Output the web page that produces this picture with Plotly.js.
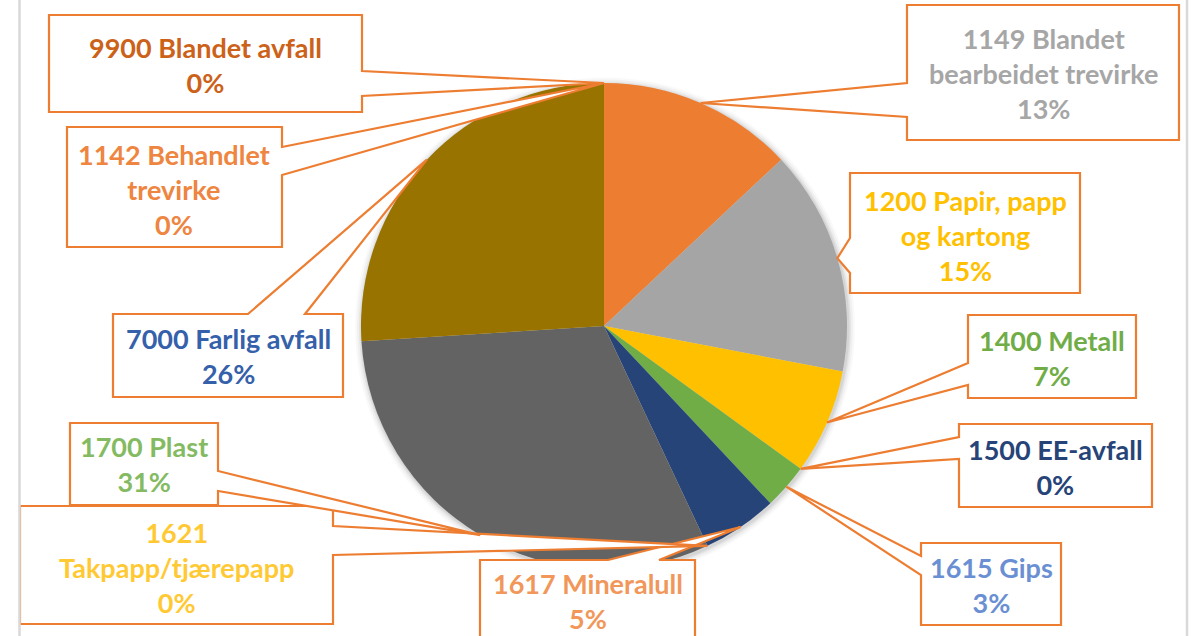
<!DOCTYPE html>
<html>
<head>
<meta charset="utf-8">
<script src="https://cdn.plot.ly/plotly-3.0.1.min.js"></script>
<style>html,body{margin:0;padding:0;background:#fff;}#chart{width:1191px;height:636px;}</style>
</head>
<body>
<div id="chart"></div>
<script>
// ---- data ----
const codes = ['1149', '1200', '1400', '1500', '1615', '1617', '1621', '1700', '7000', '1142', '9900'];
const names = ['Blandet<br>bearbeidet trevirke', 'Papir, papp<br>og kartong', 'Metall', 'EE-avfall', 'Gips',
               'Mineralull', '<br>Takpapp/tjærepapp', 'Plast', 'Farlig avfall', 'Behandlet<br>trevirke', 'Blandet avfall'];
const percents = [13, 15, 7, 0, 3, 5, 0, 31, 26, 0, 0];
const sliceColors = ['#ED7D31', '#A5A5A5', '#FFC000', '#5B9BD5', '#70AD47', '#264478', '#9E480E', '#636363', '#997300', '#255E91', '#43682B'];
const labelColors = ['#A6A6A6', '#FFC000', '#70AD47', '#264478', '#6A8FD2', '#F1975A', '#FFC933', '#84BB62', '#3560AA', '#EE8540', '#CC6119'];

// ---- layout geometry (pixels) ----
const W = 1191, H = 636;
const CX = 604, CY = 326, R = 243;
// callout boxes: [x0, x1, y0, y1, side, base1, base2, textX, textY]
const boxes = [
  [907, 1179, 5, 140, 'left', 83, 117, 1043, 73],
  [850, 1080, 173, 293, 'left', 238, 273, 965, 236],
  [968, 1136, 315, 398, 'left', 363, 385, 1052, 358],
  [959, 1152, 424, 507, 'left', 437, 459, 1055, 467],
  [921, 1061, 543, 625, 'left', 556, 575, 991, 585],
  [480, 695, 560, 660, 'top', 608, 659, 588, 601],
  [20, 333, 506, 624, 'right', 526, 555, 176, 567],
  [70, 218, 423, 505, 'right', 471, 491, 144, 464],
  [113, 343, 314, 397, 'top', 248, 305, 228, 356],
  [67, 282, 127, 247, 'right', 147, 175, 174, 189],
  [49, 362, 15, 112, 'right', 71, 96, 205, 65]
];

const px = x => x / W;
const py = y => 1 - y / H;
const P = (x, y) => px(x).toFixed(5) + ',' + py(y).toFixed(5);

// tips: middle of each slice's outer arc, from the data
const total = percents.reduce((a, b) => a + b, 0);
let cum = 0;
const tips = percents.map(v => {
  const m = (cum + v / 2) / total;
  cum += v;
  const th = 2 * Math.PI * m;
  return [CX + R * Math.sin(th), CY - R * Math.cos(th)];
});

const shapes = [];
// soft shadow behind pie
[[7, 0.025], [5, 0.035], [3, 0.05], [1.5, 0.06]].forEach(([d, a]) => {
  shapes.push({
    type: 'circle', xref: 'paper', yref: 'paper', layer: 'below',
    x0: px(CX - R - d + 1), x1: px(CX + R + d + 1), y0: py(CY + R + d + 1.5), y1: py(CY - R - d + 1.5),
    fillcolor: 'rgba(0,0,0,' + a + ')', line: {width: 0}
  });
});

const annotations = [];
boxes.forEach((b, i) => {
  const [x0, x1, y0, y1, side, b1, b2, tx, ty] = b;
  const [tX, tY] = tips[i];
  let path;
  if (side === 'right') {
    path = `M${P(x0, y0)} L${P(x1, y0)} L${P(x1, b1)} L${P(tX, tY)} L${P(x1, b2)} L${P(x1, y1)} L${P(x0, y1)} Z`;
  } else if (side === 'left') {
    path = `M${P(x0, y0)} L${P(x1, y0)} L${P(x1, y1)} L${P(x0, y1)} L${P(x0, b2)} L${P(tX, tY)} L${P(x0, b1)} Z`;
  } else {
    path = `M${P(x0, y0)} L${P(b1, y0)} L${P(tX, tY)} L${P(b2, y0)} L${P(x1, y0)} L${P(x1, y1)} L${P(x0, y1)} Z`;
  }
  shapes.push({type: 'path', xref: 'paper', yref: 'paper', path: path,
    fillcolor: '#FFFFFF', line: {color: '#ED7D31', width: 2.2}, layer: 'above'});
  const name = names[i].startsWith('<br>') ? names[i].slice(4) : names[i];
  const sep = names[i].startsWith('<br>') ? '<br>' : ' ';
  annotations.push({
    xref: 'paper', yref: 'paper', x: px(tx), y: py(ty), xanchor: 'center', yanchor: 'middle',
    showarrow: false, align: 'center',
    text: codes[i] + sep + name + '<br>' + percents[i] + '%',
    font: {family: 'Lato, "Open Sans", sans-serif', size: 27, weight: 700, color: labelColors[i]}
  });
});
// chart-area side borders
[19.5, 1187].forEach(x => shapes.push({type: 'line', xref: 'paper', yref: 'paper', layer: 'above',
  x0: px(x), x1: px(x), y0: 0, y1: 1, line: {color: '#D9D9D9', width: 2.5}}));

const trace = {
  type: 'pie',
  labels: codes.map((c, i) => c + ' ' + names[i].replace('<br>', ' ')),
  values: percents,
  sort: false,
  direction: 'clockwise',
  rotation: 0,
  textinfo: 'none',
  hoverinfo: 'label+percent',
  marker: {colors: sliceColors, line: {width: 0}},
  domain: {x: [px(CX - R), px(CX + R)], y: [py(CY + R), py(CY - R)]},
  showlegend: false
};

Plotly.newPlot('chart', [trace], {
  width: W, height: H,
  margin: {l: 0, r: 0, t: 0, b: 0},
  paper_bgcolor: '#FFFFFF',
  showlegend: false,
  shapes: shapes,
  annotations: annotations
}, {displayModeBar: false, staticPlot: true});
</script>
</body>
</html>
